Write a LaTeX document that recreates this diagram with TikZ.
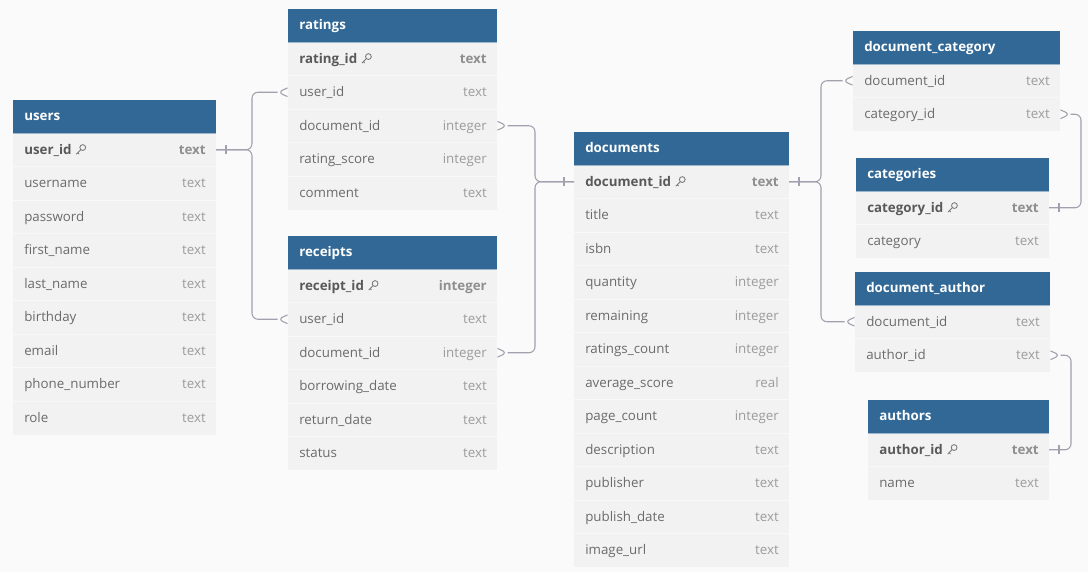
\documentclass[tikz,border=0pt]{standalone}
\usepackage{fontspec}
\setmainfont{Open Sans}
\usetikzlibrary{calc}

\definecolor{bg}{HTML}{FAFAFA}
\definecolor{hdr}{HTML}{316896}
\definecolor{hdrline}{HTML}{9DB6CC}
\definecolor{rowc}{HTML}{F2F2F2}
\definecolor{sepc}{HTML}{F8F8F8}
\definecolor{namec}{HTML}{6B6B6B}
\definecolor{typec}{HTML}{9C9C9C}
\definecolor{pknamec}{HTML}{595959}
\definecolor{pktypec}{HTML}{8F8F8F}
\definecolor{linec}{HTML}{A0A0AE}
\definecolor{keyc}{HTML}{7A7A7A}

% one unit = one pixel, y grows downwards
\tikzset{
  x=0.75pt, y=-0.75pt,
  hdrbox/.style={fill=hdr, draw=none, minimum height=24.75pt, inner sep=0pt, outer sep=0pt},
  rowbox/.style={fill=rowc, draw=none, minimum height=25.125pt, inner sep=0pt, outer sep=0pt},
  hdrtext/.style={text=white, font=\fontsize{10pt}{12pt}\selectfont\bfseries, inner sep=0pt},
  ftext/.style={text=namec, font=\fontsize{10pt}{12pt}\selectfont, inner sep=0pt},
  ttext/.style={text=typec, font=\fontsize{10pt}{12pt}\selectfont, inner sep=0pt},
  pkftext/.style={text=pknamec, font=\fontsize{10pt}{12pt}\selectfont\bfseries, inner sep=0pt},
  pkttext/.style={text=pktypec, font=\fontsize{10pt}{12pt}\selectfont\bfseries, inner sep=0pt},
  rowsep/.style={draw=sepc, line width=0.75pt},
  conn/.style={draw=linec, line width=0.8pt, rounded corners=4.5pt},
  keyicon/.pic={
    \draw[keyc, line width=0.65pt] (6.9,-2.2) circle[radius=2.9];
    \draw[keyc, line width=0.65pt, line cap=round, line join=round]
      (4.9,-0.1) -- (0.6,4.2) (1.9,2.9) -- (3.1,4.1);
  },
  crowwest/.pic={\draw[conn] (-0.5,-4.3) -- (-10.5,0) -- (-0.5,4.3);},
  croweast/.pic={\draw[conn] (0.5,-4.3) -- (10.5,0) -- (0.5,4.3);},
  tickwest/.pic={\draw[conn] (-10,-4.5) -- (-10,4.5);},
  tickeast/.pic={\draw[conn] (10,-4.5) -- (10,4.5);},
}

% #1 id, #2 left, #3 top, #4 width, #5 title, #6 rows field/type/pk
\newcommand{\erdtable}[6]{%
  \node[hdrbox, minimum width=#4*0.75pt, anchor=north west] (#1) at (#2,#3) {};
  \node[hdrtext, anchor=base west] (#1-title)
    at ([xshift=8.25pt, yshift=-2.625pt]#1.west) {#5};
  \foreach [count=\i] \f/\t/\k in {#6} {
    \node[rowbox, minimum width=#4*0.75pt, anchor=north west] (#1-\f)
      at (#2, #3+33+\i*33.5-33.5) {};
    \ifnum\i=1
      \draw[draw=hdrline, line width=0.6pt] (#1-\f.north west) -- (#1-\f.north east);
    \else
      \draw[rowsep] (#1-\f.north west) -- (#1-\f.north east);
    \fi
    \ifnum\k=1
      \node[pkftext, anchor=base west] (#1-\f-n)
        at ([xshift=8.25pt, yshift=-3.375pt]#1-\f.west) {\f};
      \node[pkttext, anchor=base east] (#1-\f-t)
        at ([xshift=-7.5pt, yshift=-3.375pt]#1-\f.east) {\t};
      \pic at ($(#1-\f-n.base east)+(4,-4.5)$) {keyicon};
    \else
      \node[ftext, anchor=base west] (#1-\f-n)
        at ([xshift=8.25pt, yshift=-3.375pt]#1-\f.west) {\f};
      \node[ttext, anchor=base east] (#1-\f-t)
        at ([xshift=-7.5pt, yshift=-3.375pt]#1-\f.east) {\t};
    \fi
  }%
}

\begin{document}
\catcode`\_=12
\begin{tikzpicture}
\fill[bg] (0,0) rectangle (1088,572);
\useasboundingbox (0,0) rectangle (1088,572);

\erdtable{users}{13}{100}{203}{users}{%
  user_id/text/1, username/text/0, password/text/0, first_name/text/0,
  last_name/text/0, birthday/text/0, email/text/0, phone_number/text/0, role/text/0}

\erdtable{ratings}{288}{9}{209}{ratings}{%
  rating_id/text/1, user_id/text/0, document_id/integer/0,
  rating_score/integer/0, comment/text/0}

\erdtable{receipts}{288}{236}{209}{receipts}{%
  receipt_id/integer/1, user_id/text/0, document_id/integer/0,
  borrowing_date/text/0, return_date/text/0, status/text/0}

\erdtable{documents}{574}{132}{215}{documents}{%
  document_id/text/1, title/text/0, isbn/text/0, quantity/integer/0,
  remaining/integer/0, ratings_count/integer/0, average_score/real/0,
  page_count/integer/0, description/text/0, publisher/text/0,
  publish_date/text/0, image_url/text/0}

\erdtable{document_category}{853}{31}{207}{document_category}{%
  document_id/text/0, category_id/text/0}

\erdtable{categories}{856}{158}{193}{categories}{%
  category_id/text/1, category/text/0}

\erdtable{document_author}{855}{272}{195}{document_author}{%
  document_id/text/0, author_id/text/0}

\erdtable{authors}{868}{400}{181}{authors}{%
  author_id/text/1, name/text/0}

% vertical runs of the connectors
\coordinate (busU) at (252,0);
\coordinate (busD) at (535,0);
\coordinate (busR) at (821,0);
\coordinate (busC) at (1081,0);
\coordinate (busA) at (1071,0);

% users.user_id -> ratings / receipts
\draw[conn] (users-user_id.east) -- (users-user_id.east -| busU)
  -- (ratings-user_id.west -| busU) -- ([xshift=-7.875pt]ratings-user_id.west);
\draw[conn] (users-user_id.east) -- (users-user_id.east -| busU)
  -- (receipts-user_id.west -| busU) -- ([xshift=-7.875pt]receipts-user_id.west);
\pic at (users-user_id.east) {tickeast};
\pic at (ratings-user_id.west) {crowwest};
\pic at (receipts-user_id.west) {crowwest};

% documents.document_id -> ratings / receipts
\draw[conn] (documents-document_id.west) -- (documents-document_id.west -| busD)
  -- (ratings-document_id.east -| busD) -- ([xshift=7.875pt]ratings-document_id.east);
\draw[conn] (documents-document_id.west) -- (documents-document_id.west -| busD)
  -- (receipts-document_id.east -| busD) -- ([xshift=7.875pt]receipts-document_id.east);
\pic at (documents-document_id.west) {tickwest};
\pic at (ratings-document_id.east) {croweast};
\pic at (receipts-document_id.east) {croweast};

% documents.document_id -> document_category / document_author
\draw[conn] (documents-document_id.east) -- (documents-document_id.east -| busR)
  -- (document_category-document_id.west -| busR)
  -- ([xshift=-7.875pt]document_category-document_id.west);
\draw[conn] (documents-document_id.east) -- (documents-document_id.east -| busR)
  -- (document_author-document_id.west -| busR)
  -- ([xshift=-7.875pt]document_author-document_id.west);
\pic at (documents-document_id.east) {tickeast};
\pic at (document_category-document_id.west) {crowwest};
\pic at (document_author-document_id.west) {crowwest};

% document_category.category_id -> categories.category_id
\draw[conn] ([xshift=7.875pt]document_category-category_id.east)
  -- (document_category-category_id.east -| busC)
  -- (categories-category_id.east -| busC) -- (categories-category_id.east);
\pic at (document_category-category_id.east) {croweast};
\pic at (categories-category_id.east) {tickeast};

% document_author.author_id -> authors.author_id
\draw[conn] ([xshift=7.875pt]document_author-author_id.east)
  -- (document_author-author_id.east -| busA)
  -- (authors-author_id.east -| busA) -- (authors-author_id.east);
\pic at (document_author-author_id.east) {croweast};
\pic at (authors-author_id.east) {tickeast};
\end{tikzpicture}
\end{document}
